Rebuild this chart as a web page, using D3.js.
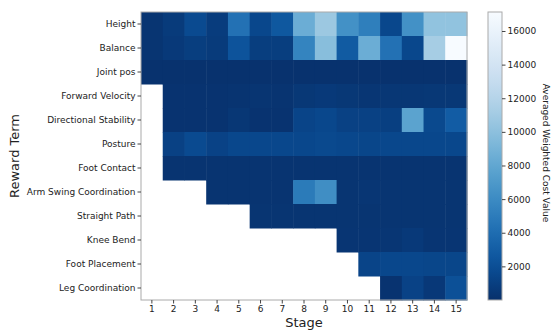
<!DOCTYPE html>
<html>
<head>
<meta charset="utf-8">
<script src="https://cdn.jsdelivr.net/npm/d3@7"></script>
<style>
  body { margin: 0; background: #fff; }
  text { font-family: "DejaVu Sans", sans-serif; fill: #222; }
</style>
</head>
<body>
<svg id="chart" width="554" height="331"></svg>
<script>
const rewardTerms = [
  "Height", "Balance", "Joint pos", "Forward Velocity", "Directional Stability",
  "Posture", "Foot Contact", "Arm Swing Coordination", "Straight Path",
  "Knee Bend", "Foot Placement", "Leg Coordination"
];
const stages = d3.range(1, 16);

// averaged weighted cost per reward term, one entry per stage (null = term not active yet)
const height      = [300, 700, 1700, 800, 4300, 1500, 2600, 8500, 10700, 6400, 5200, 1500, 6400, 10200, 10200];
const balance     = [300, 600, 900, 700, 2300, 900, 900, 5500, 9800, 2800, 8500, 4300, 1500, 11200, 17130];
const jointPos    = [150, 120, 120, 120, 120, 120, 120, 120, 120, 120, 120, 120, 120, 120, 120];
const forwardVel  = [null, 200, 200, 200, 250, 300, 250, 500, 600, 500, 400, 450, 450, 500, 500];
const dirStab     = [null, 200, 200, 200, 450, 200, 200, 1300, 1500, 1100, 1100, 1000, 7700, 1600, 2900];
const posture     = [null, 1100, 1700, 1200, 1500, 1500, 1500, 1500, 1600, 1500, 1400, 1500, 1500, 1500, 1500];
const footContact = [null, 250, 250, 250, 250, 250, 250, 250, 250, 250, 250, 250, 250, 250, 250];
const armSwing    = [null, null, null, 250, 250, 250, 250, 4900, 6200, 300, 400, 300, 300, 300, 300];
const straightPath= [null, null, null, null, null, 300, 300, 300, 300, 300, 300, 300, 300, 300, 300];
const kneeBend    = [null, null, null, null, null, null, null, null, null, 350, 350, 400, 600, 350, 350];
const footPlace   = [null, null, null, null, null, null, null, null, null, null, 1300, 1500, 1500, 1400, 1400];
const legCoord    = [null, null, null, null, null, null, null, null, null, null, null, 200, 1200, 550, 2100];

const costValues = [height, balance, jointPos, forwardVel, dirStab, posture,
  footContact, armSwing, straightPath, kneeBend, footPlace, legCoord];

const colorbarTicks = [2000, 4000, 6000, 8000, 10000, 12000, 14000, 16000];

const svg = d3.select("#chart");
const margin = { left: 141, top: 12, right: 87, bottom: 31 };
const width = 554 - margin.left - margin.right;
const height_ = 331 - margin.top - margin.bottom;

const g = svg.append("g").attr("transform", `translate(${margin.left},${margin.top})`);

const x = d3.scaleBand().domain(stages).range([0, width]);
const y = d3.scaleBand().domain(rewardTerms).range([0, height_]);

const flat = costValues.flat().filter(v => v !== null);
const vmin = 0, vmax = d3.max(flat);
const color = d3.scaleSequential(t => d3.interpolateBlues(1 - t)).domain([vmin, vmax]);

const cells = [];
costValues.forEach((row, i) => row.forEach((v, j) => {
  if (v !== null) cells.push({ term: rewardTerms[i], stage: stages[j], value: v });
}));

g.selectAll("rect.cell").data(cells).enter().append("rect")
  .attr("class", "cell")
  .attr("x", d => x(d.stage))
  .attr("y", d => y(d.term))
  .attr("width", x.bandwidth() + 0.5)
  .attr("height", y.bandwidth() + 0.5)
  .attr("fill", d => color(d.value));

g.append("rect").attr("width", width).attr("height", height_)
  .attr("fill", "none").attr("stroke", "#aaa").attr("stroke-width", 1);

const xAxis = g.append("g").attr("transform", `translate(0,${height_})`)
  .call(d3.axisBottom(x).tickSize(3.5).tickPadding(2));
const yAxis = g.append("g").call(d3.axisLeft(y).tickSize(3.5).tickPadding(2));
[xAxis, yAxis].forEach(a => {
  a.select(".domain").remove();
  a.selectAll("line").attr("stroke", "#444");
  a.selectAll("text").style("font-size", "9px").attr("fill", "#222");
});

svg.append("text").attr("x", 304).attr("y", 327).attr("text-anchor", "middle")
  .style("font-size", "13px").text("Stage");
svg.append("text").attr("transform", "translate(19,156) rotate(-90)")
  .attr("text-anchor", "middle").style("font-size", "13px").text("Reward Term");

// colorbar
const cbX = 488, cbW = 14;
const cbY = d3.scaleLinear().domain([vmin, vmax]).range([margin.top + height_, margin.top]);
const defs = svg.append("defs");
const grad = defs.append("linearGradient").attr("id", "cb").attr("x1", 0).attr("y1", 1).attr("x2", 0).attr("y2", 0);
d3.range(0, 1.0001, 0.05).forEach(t => {
  grad.append("stop").attr("offset", t).attr("stop-color", color(vmin + t * (vmax - vmin)));
});
svg.append("rect").attr("x", cbX).attr("y", margin.top).attr("width", cbW).attr("height", height_)
  .attr("fill", "url(#cb)").attr("stroke", "#aaa").attr("stroke-width", 1);
const cbAxis = svg.append("g").attr("transform", `translate(${cbX + cbW},0)`)
  .call(d3.axisRight(cbY).tickValues(colorbarTicks).tickFormat(d3.format("d")).tickSize(3.5).tickPadding(2));
cbAxis.select(".domain").remove();
cbAxis.selectAll("line").attr("stroke", "#444");
cbAxis.selectAll("text").style("font-size", "9px").attr("fill", "#222");

svg.append("text").attr("transform", `translate(543,153) rotate(90)`)
  .attr("text-anchor", "middle").style("font-size", "9px").text("Averaged Weighted Cost Value");
</script>
</body>
</html>
